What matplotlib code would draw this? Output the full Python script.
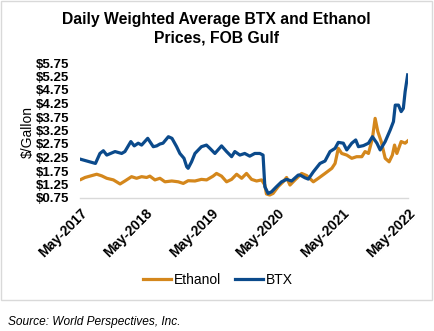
import numpy as np
import pandas as pd
import matplotlib
matplotlib.use("Agg")
import matplotlib.pyplot as plt
import matplotlib.dates as mdates
from matplotlib.patches import Rectangle

plt.rcParams['font.family'] = ['Liberation Sans', 'DejaVu Sans']

# BTX, $/gallon
btx_dates = ['2017-05-07', '2017-07-26', '2017-08-20', '2017-09-08', '2017-09-27', '2017-11-12',
             '2017-12-19', '2018-01-06', '2018-02-08', '2018-02-27', '2018-03-21', '2018-04-09',
             '2018-05-13', '2018-06-13', '2018-07-02', '2018-07-20', '2018-08-06', '2018-09-05',
             '2018-09-25', '2018-10-21', '2018-11-08', '2018-12-01', '2018-12-16', '2018-12-24',
             '2019-01-12', '2019-01-31', '2019-03-08', '2019-04-05', '2019-04-24', '2019-05-22',
             '2019-06-28', '2019-07-26', '2019-08-23', '2019-09-10', '2019-10-08', '2019-11-04',
             '2019-12-02', '2019-12-30', '2020-01-27', '2020-02-14', '2020-02-24', '2020-03-13',
             '2020-04-01', '2020-04-29', '2020-05-27', '2020-06-24', '2020-07-22', '2020-08-28',
             '2020-09-07', '2020-10-04', '2020-10-23', '2020-11-20', '2020-12-27', '2021-01-24',
             '2021-02-21', '2021-03-21', '2021-04-08', '2021-05-06', '2021-05-25', '2021-06-22',
             '2021-07-14', '2021-07-29', '2021-08-26', '2021-09-23', '2021-10-15', '2021-11-09',
             '2021-11-27', '2021-12-25', '2022-01-22', '2022-02-09', '2022-02-19', '2022-03-09',
             '2022-03-24', '2022-04-05', '2022-04-15', '2022-04-29']
btx_prices = [2.18, 2.03, 2.40, 2.50, 2.34, 2.47,
              2.40, 2.47, 2.84, 2.68, 2.78, 2.71,
              2.96, 2.65, 2.68, 2.75, 2.78, 3.02,
              2.96, 2.65, 2.40, 2.22, 1.91, 1.85,
              2.09, 2.40, 2.65, 2.71, 2.59, 2.40,
              2.68, 2.47, 2.28, 2.47, 2.34, 2.40,
              2.30, 2.40, 2.40, 2.34, 1.17, 0.92,
              0.98, 1.17, 1.35, 1.44, 1.38, 1.60,
              1.60, 1.50, 1.45, 1.72, 2.03, 2.12,
              2.47, 2.59, 2.81, 2.78, 2.53, 2.78,
              2.90, 2.65, 2.69, 2.78, 3.02, 2.78,
              2.53, 2.84, 3.27, 3.58, 4.19, 4.19,
              3.95, 4.07, 4.69, 5.31]

# Ethanol, $/gallon
eth_dates = ['2017-05-07', '2017-05-29', '2017-08-02', '2017-08-30', '2017-09-27', '2017-11-03',
             '2017-12-10', '2018-01-06', '2018-02-12', '2018-03-12', '2018-04-09', '2018-05-07',
             '2018-05-25', '2018-06-22', '2018-07-20', '2018-08-17', '2018-09-24', '2018-10-30',
             '2018-11-27', '2018-12-24', '2019-01-31', '2019-03-08', '2019-04-06', '2019-05-12',
             '2019-05-31', '2019-06-28', '2019-07-26', '2019-08-23', '2019-09-20', '2019-10-18',
             '2019-11-14', '2019-12-12', '2020-01-09', '2020-02-06', '2020-02-24', '2020-03-04',
             '2020-03-22', '2020-04-10', '2020-05-08', '2020-06-05', '2020-06-24', '2020-07-13',
             '2020-08-10', '2020-09-16', '2020-10-14', '2020-11-20', '2020-12-18', '2021-01-24',
             '2021-03-03', '2021-03-21', '2021-04-08', '2021-04-27', '2021-05-25', '2021-06-22',
             '2021-07-19', '2021-08-17', '2021-09-04', '2021-09-23', '2021-10-15', '2021-10-30',
             '2021-11-14', '2021-12-03', '2021-12-25', '2022-01-16', '2022-02-03', '2022-02-15',
             '2022-02-28', '2022-03-24', '2022-04-15', '2022-04-29']
eth_prices = [1.44, 1.51, 1.63, 1.57, 1.48, 1.42,
              1.27, 1.38, 1.54, 1.48, 1.54, 1.51,
              1.56, 1.42, 1.48, 1.35, 1.38, 1.35,
              1.29, 1.39, 1.38, 1.44, 1.42, 1.56,
              1.66, 1.56, 1.35, 1.44, 1.63, 1.48,
              1.66, 1.44, 1.38, 1.42, 1.23, 0.90,
              0.86, 0.92, 1.17, 1.35, 1.51, 1.23,
              1.42, 1.66, 1.58, 1.35, 1.48, 1.66,
              1.85, 2.03, 2.59, 2.40, 2.34, 2.22,
              2.28, 2.28, 2.47, 2.40, 2.96, 3.70,
              3.21, 2.84, 2.22, 2.09, 2.34, 2.71,
              2.40, 2.84, 2.78, 2.86]

y_ticks = [0.75, 1.25, 1.75, 2.25, 2.75, 3.25, 3.75, 4.25, 4.75, 5.25, 5.75]
x_ticks = ['2017-05-01', '2018-05-01', '2019-05-01', '2020-05-01', '2021-05-01', '2022-05-01']

BLUE = '#0B4A8B'
ORANGE = '#D4871C'

fig = plt.figure(figsize=(4.35, 3.31), dpi=100)
ax = fig.add_axes([80 / 435, 1 - 198 / 331, 328 / 435, 135 / 331])

ax.plot(pd.to_datetime(eth_dates), eth_prices, color=ORANGE, lw=2.3, label='Ethanol')
ax.plot(pd.to_datetime(btx_dates), btx_prices, color=BLUE, lw=2.3, label='BTX')

xt = pd.to_datetime(x_ticks)
ax.set_xlim(xt[0], xt[-1])
ax.set_ylim(0.75, 5.75)
ax.set_xticks(xt)
ax.xaxis.set_major_formatter(mdates.DateFormatter('%b-%Y'))
ax.set_yticks(y_ticks)
ax.set_yticklabels(['${:.2f}'.format(v) for v in y_ticks])

for s in ['top', 'right', 'left']:
    ax.spines[s].set_visible(False)
ax.spines['bottom'].set_color('#D9D9D9')
ax.spines['bottom'].set_linewidth(1)
ax.tick_params(axis='both', length=0)
ax.tick_params(axis='y', pad=8)
ax.tick_params(axis='x', pad=6)
for lab in ax.get_yticklabels():
    lab.set_fontsize(9.5)
    lab.set_fontweight('bold')
for lab in ax.get_xticklabels():
    lab.set_fontsize(10)
    lab.set_fontweight('bold')
    lab.set_rotation(45)
    lab.set_ha('right')
    lab.set_va('top')
    lab.set_rotation_mode('anchor')

ax.set_ylabel('$/Gallon', fontsize=10)
ax.yaxis.set_label_coords(-0.138, 0.49)

fig.text(0.497, 1 - 28.5 / 331, 'Daily Weighted Average BTX and Ethanol\nPrices, FOB Gulf',
         ha='center', va='center', fontsize=11.3, fontweight='bold', linespacing=1.3)

fig.legend(loc='center', bbox_to_anchor=(0.501, 1 - 280 / 331), ncol=2, frameon=False,
           fontsize=10, handlelength=2.0, handletextpad=0.2, columnspacing=1.0)

fig.patches.append(Rectangle((1 / 435, 1 - 300 / 331), 431 / 435, 299 / 331,
                             transform=fig.transFigure, fill=False,
                             edgecolor='#D9D9D9', lw=1))

fig.text(8 / 435, 1 - 322 / 331, 'Source: World Perspectives, Inc.', ha='left', va='center',
         fontsize=8.6, style='italic')

fig.savefig('out.png', dpi=100)
